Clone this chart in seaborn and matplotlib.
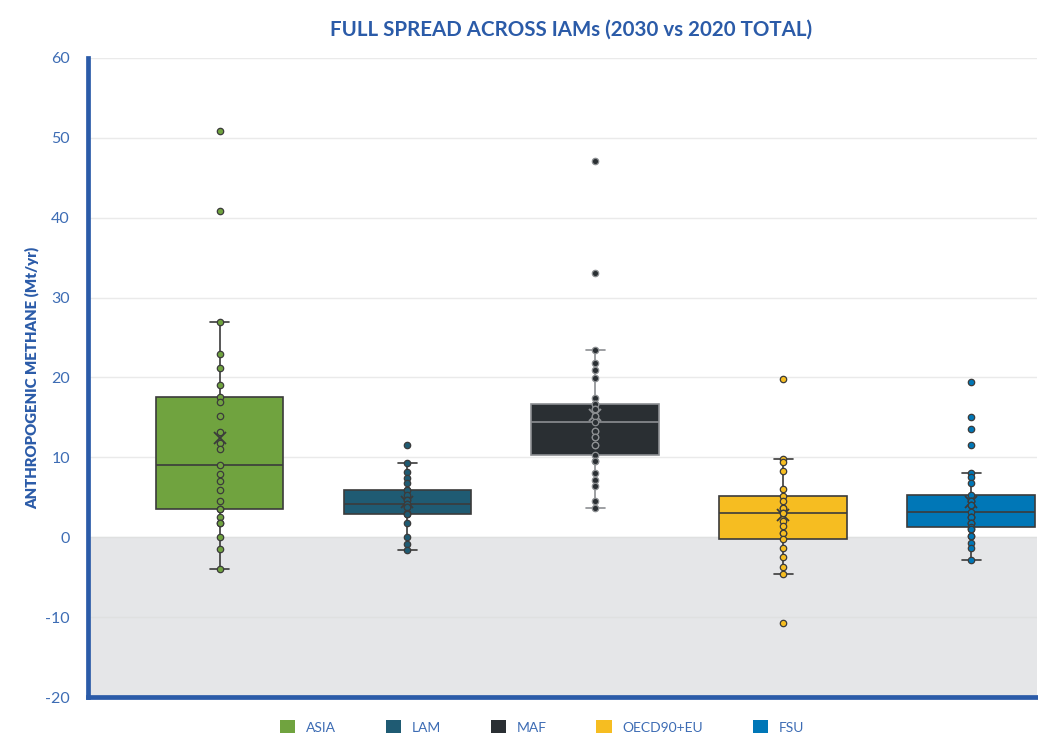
import matplotlib
matplotlib.use("Agg")
import matplotlib.pyplot as plt
from matplotlib.patches import Patch
import seaborn as sns
import pandas as pd

# regions and values (overlapping markers repeated)
regions = ["ASIA", "LAM", "MAF", "OECD90+EU", "FSU"]
asia = [50.8, 40.8, 26.9, 22.9, 21.2, 19.1, 17.5, 16.9, 15.2, 13.2, 11.8, 11.0, 9.1,
        7.9, 7.0, 5.9, 4.5, 3.6, 3.6, 2.6, 1.8, 1.8, 0.0, -1.5, -4.0]
lam = [11.6, 9.3, 8.2, 7.4, 6.8, 5.9, 5.9, 5.3, 4.7, 4.7, 4.2, 4.2, 3.8, 3.8, 3.1,
       2.9, 2.9, 1.8, 0.0, -0.9, -1.55]
maf = [47.1, 33.1, 23.5, 21.8, 20.9, 19.9, 17.4, 16.7, 16.7, 16.7, 16.0, 16.0, 15.2,
       15.2, 14.4, 13.3, 13.3, 12.6, 12.6, 11.5, 11.5, 10.3, 9.5, 9.5, 8.1, 7.2, 6.4,
       4.6, 3.7]
oecd = [19.8, 9.8, 9.4, 8.3, 6.0, 5.2, 4.5, 3.7, 3.7, 3.0, 3.0, 2.0, 1.4, 0.5, 0.5,
        -0.2, -1.4, -2.5, -3.7, -4.6, -10.7]
fsu = [19.4, 15.1, 13.5, 11.5, 8.0, 7.6, 6.8, 5.3, 4.6, 4.6, 4.6, 4.0, 4.0, 4.0, 3.2,
       2.6, 2.6, 2.6, 1.8, 1.8, 1.8, 1.3, 1.0, 1.0, 0.1, 0.1, -0.7, -1.4, -2.9]

colors = ["#70a33f", "#1f5b73", "#2a2f33", "#f6bd21", "#0077b7"]
edges = ["#3b3b3b", "#3b3b3b", "#8c8f92", "#3b3b3b", "#3b3b3b"]
blue = "#2b5ba8"

df = pd.DataFrame({
    "region": sum([[r] * len(v) for r, v in zip(regions, [asia, lam, maf, oecd, fsu])], []),
    "value": asia + lam + maf + oecd + fsu,
})

sns.set_theme(style="white")
plt.rcParams["font.family"] = ["Lato", "DejaVu Sans"]
plt.rcParams["axes.unicode_minus"] = False

fig = plt.figure(figsize=(10.38, 7.33), dpi=100)
ax = fig.add_axes([0.0848, 0.049, 0.9142, 0.872])

ax.axhspan(-20, 0, color="#e5e6e8", zorder=0)

for r, c, e in zip(regions, colors, edges):
    sub = df[df["region"] == r]
    sns.boxplot(data=sub, x="region", y="value", order=regions, color=c,
                saturation=1, width=0.68, whis=1.5, showfliers=False,
                linecolor=e, linewidth=1.2, showmeans=True,
                meanprops=dict(marker="x", markeredgecolor=e, markersize=8,
                               markeredgewidth=1.3),
                capprops=dict(color=e), whiskerprops=dict(color=e),
                ax=ax, zorder=2)
    sns.stripplot(data=sub, x="region", y="value", order=regions, color=c,
                  jitter=False, size=4.6, linewidth=0.9, edgecolor=e,
                  ax=ax, zorder=3)

# shorter whisker caps like the original
for line in ax.lines:
    xd = list(line.get_xdata())
    yd = list(line.get_ydata())
    if len(xd) == 2 and yd[0] == yd[1] and abs(xd[1] - xd[0]) > 0.05 and abs(xd[1] - xd[0]) < 0.5:
        m = (xd[0] + xd[1]) / 2
        line.set_xdata([m - 0.05, m + 0.05])

ax.set_xlim(-0.70, 4.35)
ax.set_ylim(-20, 60)
ax.set_yticks(range(-20, 61, 10))
ax.set_xticks([])
ax.set_xlabel("")
ax.yaxis.grid(True, color="#dcdcdc", linewidth=1, alpha=0.6)
ax.set_axisbelow(True)
ax.tick_params(axis="y", length=0, pad=13, labelsize=11.5, labelcolor="#3d6cb4")

for s in ["top", "right"]:
    ax.spines[s].set_visible(False)
for s in ["left", "bottom"]:
    ax.spines[s].set_color(blue)
    ax.spines[s].set_linewidth(3.4)

ax.set_ylabel("ANTHROPOGENIC METHANE (Mt/yr)", color=blue, fontsize=10.8,
              fontweight="heavy", labelpad=4)
ax.set_title("FULL SPREAD ACROSS IAMs (2030 vs 2020 TOTAL)", color=blue,
             fontsize=14.8, fontweight="bold", pad=16, x=0.509)

handles = [Patch(facecolor=c, edgecolor="none", label=r) for r, c in zip(regions, colors)]
fig.legend(handles=handles, loc="center", bbox_to_anchor=(0.522, 0.008), ncol=5,
           frameon=False, fontsize=10, labelcolor="#3d6cb4", handlelength=1.1,
           handleheight=1.1, handletextpad=0.75, columnspacing=3.6)

fig.savefig("out.png", dpi=100)
